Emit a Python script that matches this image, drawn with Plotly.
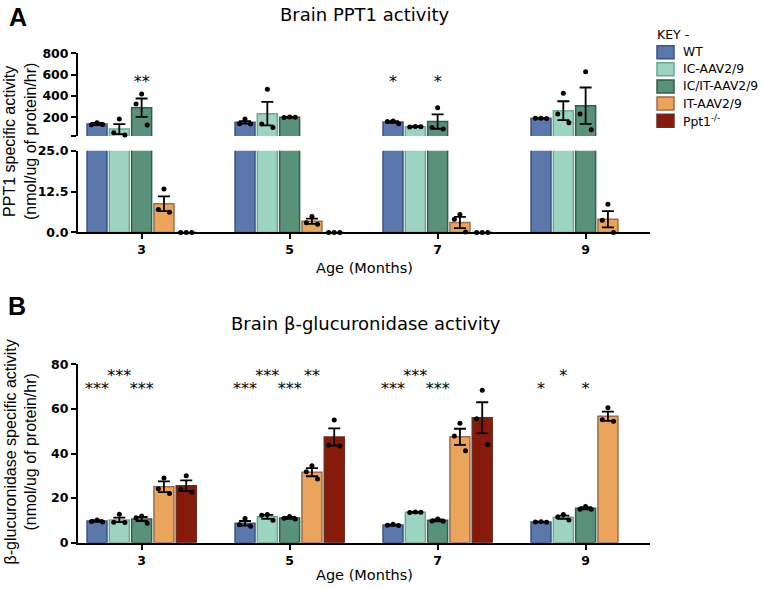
import plotly.graph_objects as go

# ---------------- data ----------------
months = ["3", "5", "7", "9"]
groups = ["WT", "IC-AAV2/9", "IC/IT-AAV2/9", "IT-AAV2/9", "Ppt1<sup>-/-</sup>"]

# Panel A: brain PPT1 activity (nmol/ug protein/hr); rows = groups, cols = months
ppt1_mean = [
    [137, 153, 155, 190],
    [90, 234, 112, 262],
    [290, 200, 160, 309],
    [8.8, 3.4, 3.05, 4.05],
    [0, 0, 0, None],
]
ppt1_sem = [
    [10, 12, 8, 3],
    [47, 110, 4, 88],
    [86, 4, 67, 170],
    [2.25, 0.8, 1.7, 2.5],
    [0, 0, 0, None],
]
ppt1_points = [
    [[150, 130, 132], [183, 140, 137], [165, 160, 140], [192, 190, 188]],
    [[183, 55, 35], [463, 137, 105], [115, 110, 112], [425, 230, 150]],
    [[418, 325, 127], [202, 198, 200], [290, 105, 90], [627, 230, 83]],
    [[13.3, 7.0, 6.2], [4.9, 3.0, 2.5], [5.5, 4.0, 0.1], [8.6, 3.7, 0.0]],
    [[0, 0, 0], [0, 0, 0], [0, 0, 0], []],
]
ppt1_stars = [
    ["", "", "*", ""],
    ["", "", "", ""],
    ["**", "", "*", ""],
    ["", "", "", ""],
    ["", "", "", ""],
]

# Panel B: brain beta-glucuronidase activity
gus_mean = [
    [9.7, 8.7, 7.9, 9.3],
    [10.2, 11.6, 13.6, 11.4],
    [10.6, 11.1, 10.0, 15.4],
    [25.1, 31.6, 47.5, 56.7],
    [25.5, 47.4, 56.0, None],
]
gus_sem = [
    [0.4, 1.0, 0.2, 0.1],
    [1.0, 0.9, 0.2, 0.7],
    [0.9, 0.4, 0.4, 0.5],
    [2.4, 1.8, 3.6, 2.1],
    [2.4, 3.9, 7.0, None],
]
gus_points = [
    [[10.2, 9.5, 9.3], [10.8, 8.0, 7.3], [8.2, 7.8, 7.7], [9.4, 9.3, 9.2]],
    [[12.7, 9.2, 9.0], [12.6, 12.3, 10.0], [13.8, 13.5, 13.6], [12.6, 11.5, 10.2]],
    [[12.0, 11.2, 8.7], [11.7, 10.9, 10.6], [10.6, 9.7, 9.6], [16.2, 15.0, 15.0]],
    [[29.0, 24.2, 22.1], [34.5, 31.8, 28.6], [53.6, 47.9, 41.2], [60.5, 55.2, 54.5]],
    [[30.0, 23.8, 22.6], [55.0, 43.8, 43.4], [68.4, 55.6, 44.0], []],
]
gus_stars = [
    ["***", "***", "***", "*"],
    ["***", "***", "***", "*"],
    ["***", "***", "***", "*"],
    ["", "**", "", ""],
    ["", "", "", ""],
]

# ---------------- style ----------------
fills = ["#5b78ad", "#9dd4c1", "#5a917a", "#eba45b", "#861b0b"]
edges = ["#3c5286", "#6da895", "#2f5e4a", "#9b6c4d", "#6b2d20"]

W, H = 762, 589
OFF_Y, SCALE_Y = 8.2, 0.973   # empirical vertical correction of the photographed page
def fx(px): return px / W
def fy(py):
    v = (py - OFF_Y) / SCALE_Y
    return 1 - v / H

X0, X1 = 78, 650
A_LOW = (232.3, 150.7)
A_HIGH = (136.0, 53.3)
B_AX = (542.0, 364.0)
BREAK = 25
SLOT = 0.1507
BW = 0.135
JIT = [0.0, -0.28, 0.28]
TICKFONT = dict(family="DejaVu Sans", size=12.5, color="black", weight="bold")
SANS = "DejaVu Sans"

fig = go.Figure()
xs = list(range(len(months)))

def center(m, i):
    return m + (i - 2) * SLOT

def add_bars(means, xa, ya):
    for i in range(len(groups)):
        fig.add_trace(go.Bar(
            x=xs, y=means[i], xaxis=xa, yaxis=ya, width=BW,
            offset=(i - 2) * SLOT - BW / 2,
            marker=dict(color=fills[i], line=dict(color=edges[i], width=1.5)),
            showlegend=False, hoverinfo="skip"))

def add_errors(means, sems, xa, ya, keep):
    for i in range(len(groups)):
        ex, ey, ee = [], [], []
        for m in xs:
            v, s = means[i][m], sems[i][m]
            if v is None or not s or not keep(v):
                continue
            ex.append(center(m, i)); ey.append(v); ee.append(s)
        if ex:
            fig.add_trace(go.Scatter(
                x=ex, y=ey, xaxis=xa, yaxis=ya, mode="markers",
                marker=dict(size=1, color="rgba(0,0,0,0)"),
                error_y=dict(type="data", array=ee, color="black", thickness=1.8, width=6),
                showlegend=False, hoverinfo="skip"))

def add_points(points, xa, ya, keep):
    for i in range(len(groups)):
        px_, py_ = [], []
        for m in xs:
            for k, p in enumerate(points[i][m]):
                if keep(p):
                    px_.append(center(m, i) + JIT[k] * BW); py_.append(p)
        if px_:
            fig.add_trace(go.Scatter(
                x=px_, y=py_, xaxis=xa, yaxis=ya, mode="markers",
                marker=dict(size=5, color="black"), cliponaxis=False,
                showlegend=False, hoverinfo="skip"))

def add_stars(stars, xa, ya, ylow, yhigh):
    tx, ty, tt = [], [], []
    for i in range(len(groups)):
        for m in xs:
            if stars[i][m]:
                tx.append(center(m, i)); tt.append(stars[i][m])
                ty.append(ylow if i % 2 == 0 else yhigh)
    fig.add_trace(go.Scatter(
        x=tx, y=ty, text=tt, xaxis=xa, yaxis=ya, mode="text",
        textfont=dict(family=SANS, size=16, color="black"), cliponaxis=False,
        showlegend=False, hoverinfo="skip"))

# Panel A (broken axis)
add_bars(ppt1_mean, "x", "y")
add_bars(ppt1_mean, "x", "y2")
add_errors(ppt1_mean, ppt1_sem, "x", "y", lambda v: v < BREAK)
add_errors(ppt1_mean, ppt1_sem, "x", "y2", lambda v: v >= BREAK)
add_points(ppt1_points, "x", "y", lambda v: v <= BREAK)
add_points(ppt1_points, "x", "y2", lambda v: v > BREAK)
add_stars(ppt1_stars, "x", "y2", 520, 520)

# Panel B
add_bars(gus_mean, "x2", "y3")
add_errors(gus_mean, gus_sem, "x2", "y3", lambda v: True)
add_points(gus_points, "x2", "y3", lambda v: True)
add_stars(gus_stars, "x2", "y3", 68.7, 74.2)

axis_common = dict(showline=True, linewidth=2, linecolor="black", ticks="outside",
                   ticklen=5, tickwidth=2, tickcolor="black", showgrid=False,
                   zeroline=False, tickfont=TICKFONT, fixedrange=True)
xrange = [-0.43, len(months) - 1 + 0.435]

fig.update_layout(
    width=W, height=H, margin=dict(l=0, r=0, t=0, b=0),
    paper_bgcolor="white", plot_bgcolor="white", barmode="overlay",
    showlegend=False,
    xaxis=dict(domain=[fx(X0), fx(X1)], range=xrange, tickvals=xs, ticktext=months,
               anchor="y", **axis_common),
    yaxis=dict(domain=[fy(A_LOW[0]), fy(A_LOW[1])], range=[0, BREAK],
               tickvals=[0, 12.5, 25], ticktext=["0.0", "12.5", "25.0"],
               anchor="x", **axis_common),
    yaxis2=dict(domain=[fy(A_HIGH[0]), fy(A_HIGH[1])], range=[BREAK, 800],
                tickvals=[25, 200, 400, 600, 800], ticktext=[" ", "200", "400", "600", "800"],
                anchor="x", **axis_common),
    xaxis2=dict(domain=[fx(X0), fx(X1)], range=xrange, tickvals=xs, ticktext=months,
                anchor="y3", **axis_common),
    yaxis3=dict(domain=[fy(B_AX[0]), fy(B_AX[1])], range=[0, 80],
                tickvals=[0, 20, 40, 60, 80], anchor="x2", **axis_common),
)

ann = []
def text(px, py, s, size, family=SANS, angle=0, bold=False, xanchor="center"):
    ann.append(dict(x=fx(px), y=min(max(fy(py), 0.012), 0.988), xref="paper", yref="paper",
                    text=s, showarrow=False,
                    textangle=angle, xanchor=xanchor, yanchor="middle",
                    font=dict(family=family, size=size, color="black",
                              weight="bold" if bold else "normal")))

text(18, 17, "A", 25, family="Liberation Sans, Arial", bold=True)
text(17, 306, "B", 25, family="Liberation Sans, Arial", bold=True)
text(364, 12, "Brain PPT1 activity", 18)
text(366, 323, "Brain β-glucuronidase activity", 18)
text(364, 268, "Age (Months)", 14.5)
text(364, 578, "Age (Months)", 14.5)
text(20, 142, "PPT1 specific activity<br>(nmol/ug of protein/hr)", 16,
     family="Liberation Sans, Arial", angle=-90)
text(21, 452, "β-glucuronidase specific activity<br>(nmol/ug of protein/hr)", 16,
     family="Liberation Sans, Arial", angle=-90)

# Legend (key)
text(655, 35, "KEY -", 12.5, xanchor="left")
shapes = []
for i, g in enumerate(groups):
    yc = 52.3 + i * 17.1
    shapes.append(dict(type="rect", xref="paper", yref="paper",
                       x0=fx(657), x1=fx(674), y0=fy(yc + 6.5), y1=fy(yc - 6.5),
                       fillcolor=fills[i], line=dict(color=edges[i], width=1.5)))
    text(681, yc, g, 12.3, xanchor="left")

fig.update_layout(annotations=ann, shapes=shapes)
fig.write_html("out.html", config={"displayModeBar": False},
               post_script="document.body.style.margin='0';document.body.style.overflow='hidden';")
